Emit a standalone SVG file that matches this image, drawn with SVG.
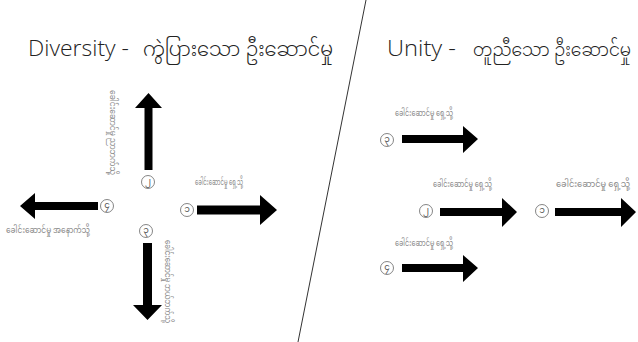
<svg xmlns="http://www.w3.org/2000/svg" width="638" height="342" viewBox="0 0 638 342">
<style>
.title{font-family:"Open Sans","Noto Sans Myanmar","Padauk","Myanmar Text",sans-serif;font-weight:300;font-size:22px;fill:#222}
.my{font-family:"Noto Sans Myanmar","Padauk","Myanmar Text","Open Sans",sans-serif;font-weight:300;font-size:20px;fill:#222}
.lbl{font-family:"Noto Sans Myanmar","Padauk","Myanmar Text","Noto Sans",sans-serif;font-size:8px;fill:#8a8a8a}
.num{font-family:"Noto Sans Myanmar","Padauk","Myanmar Text","Noto Sans",sans-serif;font-size:9px;fill:#555;text-anchor:middle;dominant-baseline:central}
.ring{fill:#fff;stroke:#666;stroke-width:0.8}
.arr{fill:#000}
</style>
<rect width="638" height="342" fill="#fff"/>
<g id="divider"><line x1="366" y1="0" x2="298" y2="342" stroke="#333" stroke-width="1"/></g>
<g id="title-diversity"><text class="title" x="28" y="56" textLength="101" lengthAdjust="spacingAndGlyphs">Diversity -</text><text class="my" x="143" y="56" textLength="190" lengthAdjust="spacingAndGlyphs">ကွဲပြားသော ဦးဆောင်မှု</text></g>
<g id="title-unity"><text class="title" x="387" y="56" textLength="69" lengthAdjust="spacingAndGlyphs">Unity -</text><text class="my" x="473" y="56" style="font-size:18px" textLength="158" lengthAdjust="spacingAndGlyphs">တူညီသော ဦးဆောင်မှု</text></g>
<g id="connectors">
<polygon class="arr" points="197,205.5 260,205.5 260,195 277,210 260,225 260,214.5 197,214.5"/>
<polygon class="arr" points="144.5,170 144.5,108 135,108 148.5,93 162,108 152.5,108 152.5,170"/>
<polygon class="arr" points="143,243 143,305 133,305 147.5,320 162,305 152,305 152,243"/>
<polygon class="arr" points="98,202 35,202 35,193 20,206 35,219 35,210 98,210"/>
<polygon class="arr" points="402,135 463,135 463,126 478,139 463,153 463,143 402,143"/>
<polygon class="arr" points="440,208 502,208 502,198 517,212 502,227 502,216 440,216"/>
<polygon class="arr" points="555,208 621,208 621,198 636,212 621,227 621,216 555,216"/>
<polygon class="arr" points="402,264 463,264 463,255 478,268 463,282 463,272 402,272"/>
</g>
<g id="node-L1"><circle class="ring" cx="187" cy="210" r="6.5"/><text class="num" x="187" y="210">၁</text><text class="lbl" x="195" y="185" textLength="48" lengthAdjust="spacingAndGlyphs">ခေါင်းဆောင်မှု ရှေ့သို့</text></g>
<g id="node-L2"><circle class="ring" cx="148" cy="182" r="6.5"/><text class="num" x="148" y="182">၂</text><text class="lbl" transform="translate(110,90) rotate(90)" x="0" y="0" textLength="85" lengthAdjust="spacingAndGlyphs">ခေါင်းဆောင်မှု ညာဘက်သို့</text></g>
<g id="node-L3"><circle class="ring" cx="146" cy="231" r="6.5"/><text class="num" x="146" y="231">၃</text><text class="lbl" transform="translate(165,240) rotate(90)" x="0" y="0" textLength="83" lengthAdjust="spacingAndGlyphs">ခေါင်းဆောင်မှု ဘယ်ဘက်သို့</text></g>
<g id="node-L4"><circle class="ring" cx="107" cy="206" r="6.5"/><text class="num" x="107" y="206">၄</text><text class="lbl" x="6" y="233" textLength="84" lengthAdjust="spacingAndGlyphs">ခေါင်းဆောင်မှု အနောက်သို့</text></g>
<g id="node-R3"><circle class="ring" cx="387" cy="140" r="6.5"/><text class="num" x="387" y="140">၃</text><text class="lbl" x="395" y="116" textLength="58" lengthAdjust="spacingAndGlyphs">ခေါင်းဆောင်မှု ရှေ့သို့</text></g>
<g id="node-R2"><circle class="ring" cx="426" cy="211" r="6.5"/><text class="num" x="426" y="211">၂</text><text class="lbl" x="433" y="187" textLength="59" lengthAdjust="spacingAndGlyphs">ခေါင်းဆောင်မှု ရှေ့သို့</text></g>
<g id="node-R1"><circle class="ring" cx="542" cy="211" r="6.5"/><text class="num" x="542" y="211">၁</text><text class="lbl" x="556" y="187" textLength="74" lengthAdjust="spacingAndGlyphs">ခေါင်းဆောင်မှု ရှေ့သို့</text></g>
<g id="node-R4"><circle class="ring" cx="387" cy="268" r="6.5"/><text class="num" x="387" y="268">၄</text><text class="lbl" x="395" y="246" textLength="58" lengthAdjust="spacingAndGlyphs">ခေါင်းဆောင်မှု ရှေ့သို့</text></g>
</svg>
